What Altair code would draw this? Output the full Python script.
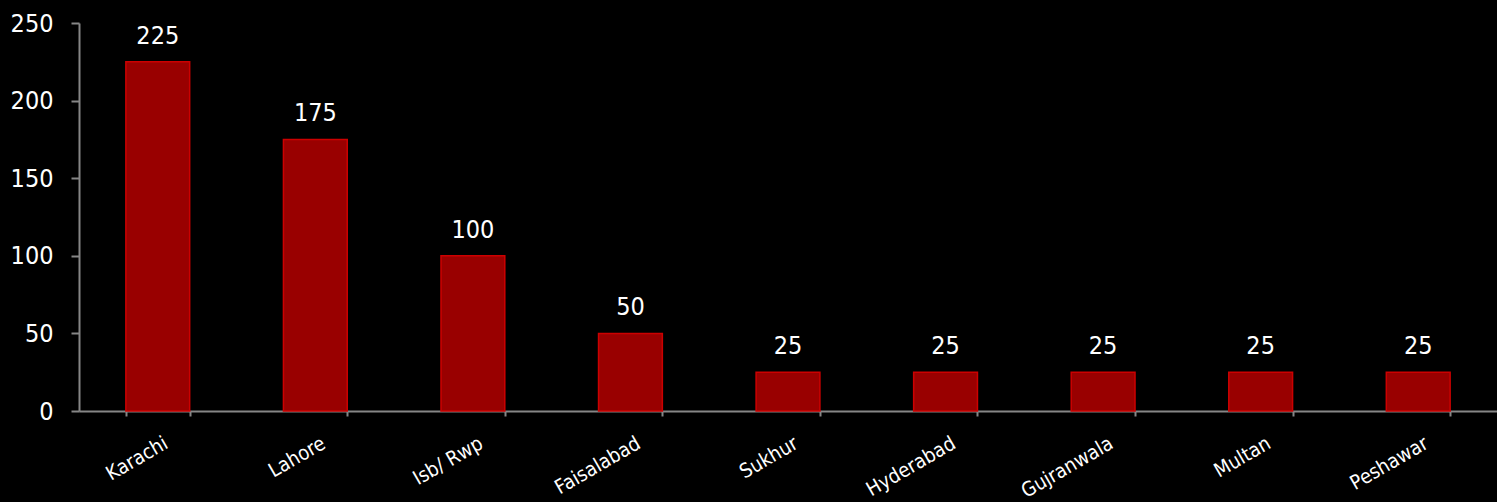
import altair as alt
import pandas as pd

cities = ["Karachi", "Lahore", "Isb/ Rwp", "Faisalabad", "Sukhur", "Hyderabad",
          "Gujranwala", "Multan", "Peshawar"]
values = [225, 175, 100, 50, 25, 25, 25, 25, 25]

df = pd.DataFrame({"city": cities, "value": values})

FONT = "DejaVu Sans Condensed, DejaVu Sans"

x = alt.X("city:N", sort=cities, title=None,
          scale=alt.Scale(paddingInner=0.595, paddingOuter=0.2975),
          axis=alt.Axis(labelAngle=-30, labelAlign="right", labelBaseline="top",
                        labelPadding=17, labelFontSize=20, labelFont=FONT,
                        labelColor="white", tickBand="extent", tickSize=5,
                        domainColor="#868686", tickColor="#868686",
                        domainWidth=2, tickWidth=2, labelOffset=3))
y = alt.Y("value:Q", title=None,
          scale=alt.Scale(domain=[0, 250], nice=False),
          axis=alt.Axis(values=[0, 50, 100, 150, 200, 250], grid=False,
                        tickSize=8, labelPadding=18, labelFontSize=25,
                        labelFont=FONT, labelColor="white",
                        domainColor="#868686", tickColor="#868686",
                        domainWidth=2, tickWidth=2))

bars = alt.Chart(df).mark_bar(color="#990000", stroke="#cc0000",
                              strokeWidth=1.5).encode(x=x, y=y)
text = alt.Chart(df).mark_text(baseline="bottom", dy=-13, fontSize=25,
                               font=FONT, color="white").encode(
    x=alt.X("city:N", sort=cities), y="value:Q", text="value:Q")

chart = (bars + text).properties(
    width=1418, height=388,
    background="black",
    padding={"left": 79, "top": 23, "right": 0, "bottom": 91},
    autosize=alt.AutoSizeParams(type="none"),
).configure_view(stroke=None)

chart.save("out.html", embed_options={"renderer": "svg", "actions": False})
